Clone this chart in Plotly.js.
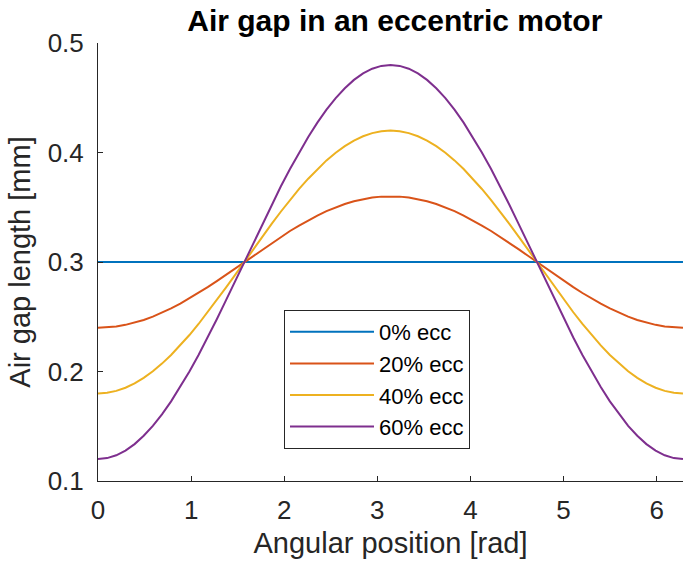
<!DOCTYPE html>
<html>
<head>
<meta charset="utf-8">
<script src="https://cdn.plot.ly/plotly-3.0.1.min.js"></script>
<style>html,body{margin:0;padding:0;background:#fff;}#chart{width:683px;height:564px;}</style>
</head>
<body>
<div id="chart"></div>
<script>
// Angular position samples [rad]
const angle = [0, 0.098, 0.196, 0.295, 0.393, 0.491, 0.589, 0.687, 0.785, 0.884, 0.982, 1.080, 1.178, 1.276, 1.374, 1.473,
  1.571, 1.669, 1.767, 1.865, 1.963, 2.062, 2.160, 2.258, 2.356, 2.454, 2.553, 2.651, 2.749, 2.847, 2.945, 3.043,
  3.142, 3.240, 3.338, 3.436, 3.534, 3.633, 3.731, 3.829, 3.927, 4.025, 4.123, 4.222, 4.320, 4.418, 4.516, 4.614,
  4.712, 4.811, 4.909, 5.007, 5.105, 5.203, 5.301, 5.400, 5.498, 5.596, 5.694, 5.792, 5.890, 5.989, 6.087, 6.185, 6.283];
// Air gap length [mm]
const ecc0 = [0.3, 0.3, 0.3, 0.3, 0.3, 0.3, 0.3, 0.3, 0.3, 0.3, 0.3, 0.3, 0.3, 0.3, 0.3, 0.3,
  0.3, 0.3, 0.3, 0.3, 0.3, 0.3, 0.3, 0.3, 0.3, 0.3, 0.3, 0.3, 0.3, 0.3, 0.3, 0.3,
  0.3, 0.3, 0.3, 0.3, 0.3, 0.3, 0.3, 0.3, 0.3, 0.3, 0.3, 0.3, 0.3, 0.3, 0.3, 0.3,
  0.3, 0.3, 0.3, 0.3, 0.3, 0.3, 0.3, 0.3, 0.3, 0.3, 0.3, 0.3, 0.3, 0.3, 0.3, 0.3, 0.3];
const ecc20 = [0.2400, 0.2403, 0.2412, 0.2426, 0.2446, 0.2471, 0.2501, 0.2536, 0.2576, 0.2619, 0.2667, 0.2717, 0.2770, 0.2826, 0.2883, 0.2941,
  0.3000, 0.3059, 0.3117, 0.3174, 0.3230, 0.3283, 0.3333, 0.3381, 0.3424, 0.3464, 0.3499, 0.3529, 0.3554, 0.3574, 0.3588, 0.3597,
  0.3600, 0.3597, 0.3588, 0.3574, 0.3554, 0.3529, 0.3499, 0.3464, 0.3424, 0.3381, 0.3333, 0.3283, 0.3230, 0.3174, 0.3117, 0.3059,
  0.3000, 0.2941, 0.2883, 0.2826, 0.2770, 0.2717, 0.2667, 0.2619, 0.2576, 0.2536, 0.2501, 0.2471, 0.2446, 0.2426, 0.2412, 0.2403, 0.2400];
const ecc40 = [0.1800, 0.1806, 0.1823, 0.1852, 0.1891, 0.1942, 0.2002, 0.2072, 0.2151, 0.2239, 0.2333, 0.2434, 0.2541, 0.2652, 0.2766, 0.2882,
  0.3000, 0.3118, 0.3234, 0.3348, 0.3459, 0.3566, 0.3667, 0.3761, 0.3849, 0.3928, 0.3998, 0.4058, 0.4109, 0.4148, 0.4177, 0.4194,
  0.4200, 0.4194, 0.4177, 0.4148, 0.4109, 0.4058, 0.3998, 0.3928, 0.3849, 0.3761, 0.3667, 0.3566, 0.3459, 0.3348, 0.3234, 0.3118,
  0.3000, 0.2882, 0.2766, 0.2652, 0.2541, 0.2434, 0.2333, 0.2239, 0.2151, 0.2072, 0.2002, 0.1942, 0.1891, 0.1852, 0.1823, 0.1806, 0.1800];
const ecc60 = [0.1200, 0.1209, 0.1235, 0.1278, 0.1337, 0.1413, 0.1503, 0.1609, 0.1727, 0.1858, 0.2000, 0.2151, 0.2311, 0.2477, 0.2649, 0.2824,
  0.3000, 0.3176, 0.3351, 0.3523, 0.3689, 0.3849, 0.4000, 0.4141, 0.4273, 0.4392, 0.4497, 0.4587, 0.4663, 0.4722, 0.4765, 0.4791,
  0.4800, 0.4791, 0.4765, 0.4722, 0.4663, 0.4587, 0.4497, 0.4392, 0.4273, 0.4141, 0.4000, 0.3849, 0.3689, 0.3523, 0.3351, 0.3176,
  0.3000, 0.2824, 0.2649, 0.2477, 0.2311, 0.2151, 0.2000, 0.1858, 0.1727, 0.1609, 0.1503, 0.1413, 0.1337, 0.1278, 0.1235, 0.1209, 0.1200];
const seriesNames = ['0% ecc', '20% ecc', '40% ecc', '60% ecc'];
const seriesColors = ['#0072BD', '#D95319', '#EDB120', '#7E2F8E'];
const seriesData = [ecc0, ecc20, ecc40, ecc60];

const traces = seriesData.map((y, i) => ({
  x: angle, y: y, type: 'scatter', mode: 'lines', name: seriesNames[i],
  line: {color: seriesColors[i], width: 2}
}));

const axisCol = '#262626';
const font = 'Liberation Sans, Arial, Helvetica, sans-serif';
const layout = {
  width: 683, height: 564,
  margin: {l: 98, r: 0, t: 43, b: 83},
  paper_bgcolor: '#fff', plot_bgcolor: '#fff',
  font: {family: font, color: axisCol},
  title: {text: '<b>Air gap in an eccentric motor</b>', x: 0.578, xanchor: 'center', y: 0.963, yanchor: 'middle',
    font: {family: font, size: 30, color: '#000'}},
  xaxis: {range: [0, 6.2832], dtick: 1, tick0: 0, ticks: 'inside', ticklen: 5, tickcolor: axisCol,
    showline: true, linecolor: axisCol, linewidth: 1, showgrid: false, zeroline: false,
    tickfont: {size: 26, color: axisCol}, ticklabelstandoff: 6,
    title: {text: 'Angular position [rad]', font: {size: 29, color: axisCol}, standoff: 8}},
  yaxis: {range: [0.1, 0.5], dtick: 0.1, tick0: 0.1, ticks: 'inside', ticklen: 5, tickcolor: axisCol,
    showline: true, linecolor: axisCol, linewidth: 1, showgrid: false, zeroline: false,
    tickfont: {size: 26, color: axisCol}, ticklabelstandoff: 8,
    title: {text: 'Air gap length [mm]', font: {size: 29, color: axisCol}, standoff: 8}},
  showlegend: true,
  legend: {x: (284 - 98) / 585, y: (481 - 310) / 438, xanchor: 'left', yanchor: 'top', bgcolor: '#fff',
    bordercolor: axisCol, borderwidth: 1, font: {size: 22, color: '#000'}, tracegroupgap: 0, itemwidth: 84,
    entrywidth: 96, entrywidthmode: 'pixels'}
};
Plotly.newPlot('chart', traces, layout, {displayModeBar: false, staticPlot: true});
</script>
</body>
</html>
